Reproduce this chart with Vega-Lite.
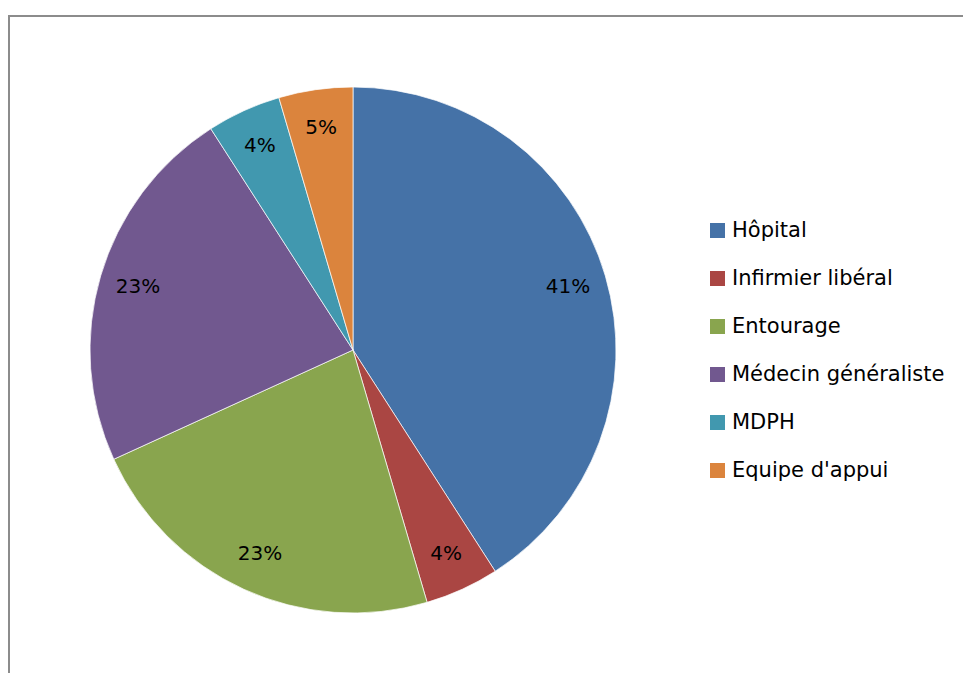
{
  "$schema": "https://vega.github.io/schema/vega-lite/v6.json",
  "width": 1000,
  "height": 700,
  "padding": {"left": 9, "top": 16, "right": 0, "bottom": 0},
  "autosize": {"type": "none"},
  "background": "white",
  "view": {"stroke": "#8c8c8c", "strokeWidth": 2, "fill": "white"},
  "config": {
    "font": "DejaVu Sans"
  },
  "data": {
    "values": [
      {"source": "Hôpital", "count": 9, "label": "41%", "order": 1},
      {"source": "Infirmier libéral", "count": 1, "label": "4%", "order": 2},
      {"source": "Entourage", "count": 5, "label": "23%", "order": 3},
      {"source": "Médecin généraliste", "count": 5, "label": "23%", "order": 4},
      {"source": "MDPH", "count": 1, "label": "4%", "order": 5},
      {"source": "Equipe d'appui", "count": 1, "label": "5%", "order": 6}
    ]
  },
  "encoding": {
    "theta": {"field": "count", "type": "quantitative", "stack": true},
    "order": {"field": "order", "type": "quantitative"},
    "color": {
      "field": "source",
      "type": "nominal",
      "scale": {
        "domain": ["Hôpital", "Infirmier libéral", "Entourage", "Médecin généraliste", "MDPH", "Equipe d'appui"],
        "range": ["#4572A7", "#AA4643", "#89A54E", "#71588F", "#4198AF", "#DB843D"]
      },
      "legend": {
        "title": null,
        "orient": "none",
        "legendX": 698,
        "legendY": 204,
        "symbolType": "square",
        "symbolSize": 225,
        "symbolStrokeWidth": 0,
        "labelFontSize": 21,
        "labelFont": "DejaVu Sans",
        "labelColor": "#000000",
        "labelLimit": 400,
        "labelOffset": 4,
        "rowPadding": 26
      }
    }
  },
  "layer": [
    {
      "mark": {"type": "arc", "outerRadius": 263, "x": 344, "y": 334, "stroke": "white", "strokeWidth": 0.7}
    },
    {
      "mark": {"type": "text", "radius": 224, "x": 344, "y": 334, "fontSize": 20, "font": "DejaVu Sans", "color": "#000000", "baseline": "middle", "align": "center"},
      "encoding": {
        "text": {"field": "label", "type": "nominal"},
        "color": {"value": "#000000"}
      }
    }
  ]
}
